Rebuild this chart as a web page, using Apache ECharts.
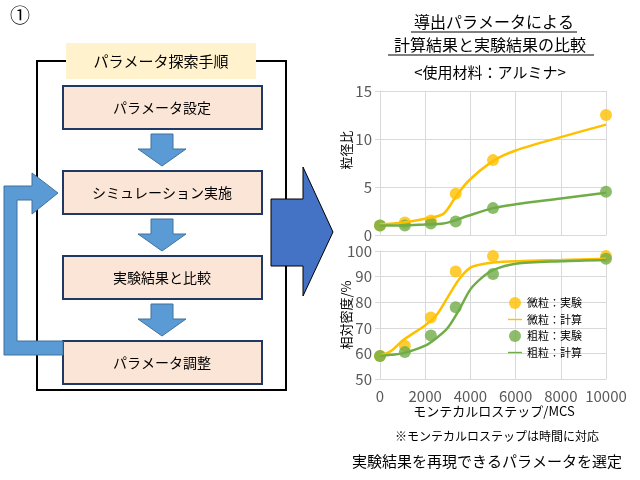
<!DOCTYPE html>
<html><head><meta charset="utf-8">
<script src="https://cdn.jsdelivr.net/npm/echarts@6/dist/echarts.min.js"></script>
<style>html,body{margin:0;padding:0;background:#fff}#c{width:640px;height:480px}</style>
</head><body><div id="c"></div>
<script>
const expX = [0, 1100, 2250, 3350, 5000, 10000];
const fineSizeExp = [1.0, 1.3, 1.5, 4.3, 7.8, 12.5];
const coarseSizeExp = [1.0, 1.0, 1.2, 1.4, 2.8, 4.5];
const calcSizeX = [0, 1000, 2000, 2800, 3300, 3900, 5000, 6000, 8000, 10000];
const fineSizeCalc = [1.1, 1.3, 1.7, 2.2, 3.8, 5.6, 7.7, 8.8, 10.2, 11.5];
const coarseSizeCalc = [1.0, 1.0, 1.1, 1.2, 1.5, 2.0, 2.8, 3.2, 3.8, 4.4];
const fineDensExp = [59, 63, 74, 92, 98, 98];
const coarseDensExp = [59, 60.5, 67, 78, 91, 97];
const densX = [0, 500, 1000, 2000, 2500, 3000, 3500, 4000, 4500, 5000, 6000, 8000, 10000];
const fineDensCalc = [59, 61, 65, 71, 75, 82, 89, 93.5, 94.8, 95.5, 96, 96.5, 97];
const coarseDensCalc = [59, 59.5, 60, 63, 66, 70, 77, 85, 89.5, 92.5, 95, 96, 96.5];
const legendNames = ['微粒：実験', '微粒：計算', '粗粒：実験', '粗粒：計算'];
const steps = ['パラメータ設定', 'シミュレーション実施', '実験結果と比較', 'パラメータ調整'];

const ORANGE = '#ffc000', GREEN = '#70ad47';
const zip = (xs, ys) => xs.map((x, i) => [x, ys[i]]);
const font = '"Noto Sans CJK JP", sans-serif';
const txt = (x, y, s, size, extra) => Object.assign({type:'text', x, y, style:{text:s, font:`${size}px ${font}`, fill:'#000', align:'center', verticalAlign:'middle'}}, extra||{});

const graphic = [];
graphic.push({type:'polyline', shape:{points:[[66,61],[37,61],[37,390],[286,390],[286,61],[256,61]]}, style:{stroke:'#000', lineWidth:2, fill:null}});
graphic.push({type:'rect', shape:{x:66,y:43,width:190,height:36}, style:{fill:'#fff2cc'}});
graphic.push(txt(161,61,'パラメータ探索手順',15));
const boxY = [86, 171, 256, 341];
boxY.forEach((y,i)=>{
  graphic.push({type:'rect', shape:{x:63,y,width:199,height:43}, style:{fill:'#fbe5d6', stroke:'#203864', lineWidth:2}});
  graphic.push(txt(162,y+22,steps[i],14));
});
[134,219,304].forEach(y=>{
  graphic.push({type:'polygon', shape:{points:[[151,y],[173,y],[173,y+15],[186,y+15],[162,y+32],[138,y+15],[151,y+15]]}, style:{fill:'#5b9bd5', stroke:'#41719c', lineWidth:1}});
});
graphic.push({type:'polygon', shape:{points:[[63,341],[63,355],[4,355],[4,186],[32,186],[32,173],[58,193],[32,214],[32,200],[17,200],[17,341]]}, style:{fill:'#5b9bd5', stroke:'#41719c', lineWidth:1}});
graphic.push({type:'polygon', shape:{points:[[271,199],[303,199],[303,167],[333,232],[303,296],[303,266],[271,266]]}, style:{fill:'#4472c4', stroke:'#000', lineWidth:1}});
graphic.push(txt(20,15,'①',20));
graphic.push(txt(494,22,'導出パラメータによる',16));
graphic.push({type:'line', shape:{x1:411,y1:32,x2:577,y2:32}, style:{stroke:'#000',lineWidth:1}});
graphic.push(txt(490,45,'計算結果と実験結果の比較',16));
graphic.push({type:'line', shape:{x1:388,y1:55,x2:594,y2:55}, style:{stroke:'#555',lineWidth:1.5}});
graphic.push(txt(490,72,'<使用材料：アルミナ>',15));
graphic.push(txt(494,411,'モンテカルロステップ/MCS',13));
graphic.push(txt(497,436,'※モンテカルロステップは時間に対応',12));
graphic.push(txt(487,461,'実験結果を再現できるパラメータを選定',15));
graphic.push(txt(346,150,'粒径比',13,{rotation:Math.PI/2}));
graphic.push(txt(346,315,'相対密度/%',13,{rotation:Math.PI/2}));

const axisLbl = {color:'#595959', fontSize:15, fontFamily:font};
const split = {show:true, lineStyle:{color:'#d9d9d9'}};
const lineIcon = 'path://M0,0h20v2h-20z';
const opt = {
  animation:false,
  grid:[{left:380,width:226,top:91,height:144},{left:380,width:226,top:251,height:128}],
  xAxis:[
    {gridIndex:0,type:'value',min:0,max:10000,interval:2000,axisLabel:{show:false},axisTick:{show:false},axisLine:{lineStyle:{color:'#d9d9d9'}},splitLine:split},
    {gridIndex:1,type:'value',min:0,max:10000,interval:2000,axisLabel:Object.assign({margin:10,formatter:v=>String(v)},axisLbl),axisTick:{show:false},axisLine:{lineStyle:{color:'#d9d9d9'}},splitLine:split}
  ],
  yAxis:[
    {gridIndex:0,type:'value',min:0,max:15,interval:5,axisLabel:axisLbl,axisLine:{show:true,lineStyle:{color:'#d9d9d9'}},splitLine:split},
    {gridIndex:1,type:'value',min:50,max:100,interval:10,axisLabel:axisLbl,axisLine:{show:true,lineStyle:{color:'#d9d9d9'}},splitLine:split}
  ],
  legend:{orient:'vertical',left:503,top:292,itemGap:5,itemWidth:14,itemHeight:12,textStyle:{fontSize:11,fontFamily:font,color:'#000'},data:[
    {name:legendNames[0],icon:'circle'},{name:legendNames[1],icon:lineIcon},{name:legendNames[2],icon:'circle'},{name:legendNames[3],icon:lineIcon}]},
  series:[
    {name:legendNames[1],type:'line',smooth:0.3,showSymbol:false,xAxisIndex:0,yAxisIndex:0,data:zip(calcSizeX,fineSizeCalc),lineStyle:{color:ORANGE,width:2.5},itemStyle:{color:ORANGE}},
    {name:legendNames[3],type:'line',smooth:0.3,showSymbol:false,xAxisIndex:0,yAxisIndex:0,data:zip(calcSizeX,coarseSizeCalc),lineStyle:{color:GREEN,width:2.5},itemStyle:{color:GREEN}},
    {name:legendNames[0],type:'scatter',symbolSize:12,xAxisIndex:0,yAxisIndex:0,data:zip(expX,fineSizeExp),itemStyle:{color:ORANGE}},
    {name:legendNames[2],type:'scatter',symbolSize:12,xAxisIndex:0,yAxisIndex:0,data:zip(expX,coarseSizeExp),itemStyle:{color:GREEN}},
    {name:legendNames[1],type:'line',smooth:0.3,showSymbol:false,xAxisIndex:1,yAxisIndex:1,data:zip(densX,fineDensCalc),lineStyle:{color:ORANGE,width:2.5},itemStyle:{color:ORANGE}},
    {name:legendNames[3],type:'line',smooth:0.3,showSymbol:false,xAxisIndex:1,yAxisIndex:1,data:zip(densX,coarseDensCalc),lineStyle:{color:GREEN,width:2.5},itemStyle:{color:GREEN}},
    {name:legendNames[0],type:'scatter',symbolSize:12,xAxisIndex:1,yAxisIndex:1,data:zip(expX,fineDensExp),itemStyle:{color:ORANGE}},
    {name:legendNames[2],type:'scatter',symbolSize:12,xAxisIndex:1,yAxisIndex:1,data:zip(expX,coarseDensExp),itemStyle:{color:GREEN}}
  ],
  graphic
};
echarts.init(document.getElementById('c')).setOption(opt);
</script></body></html>
